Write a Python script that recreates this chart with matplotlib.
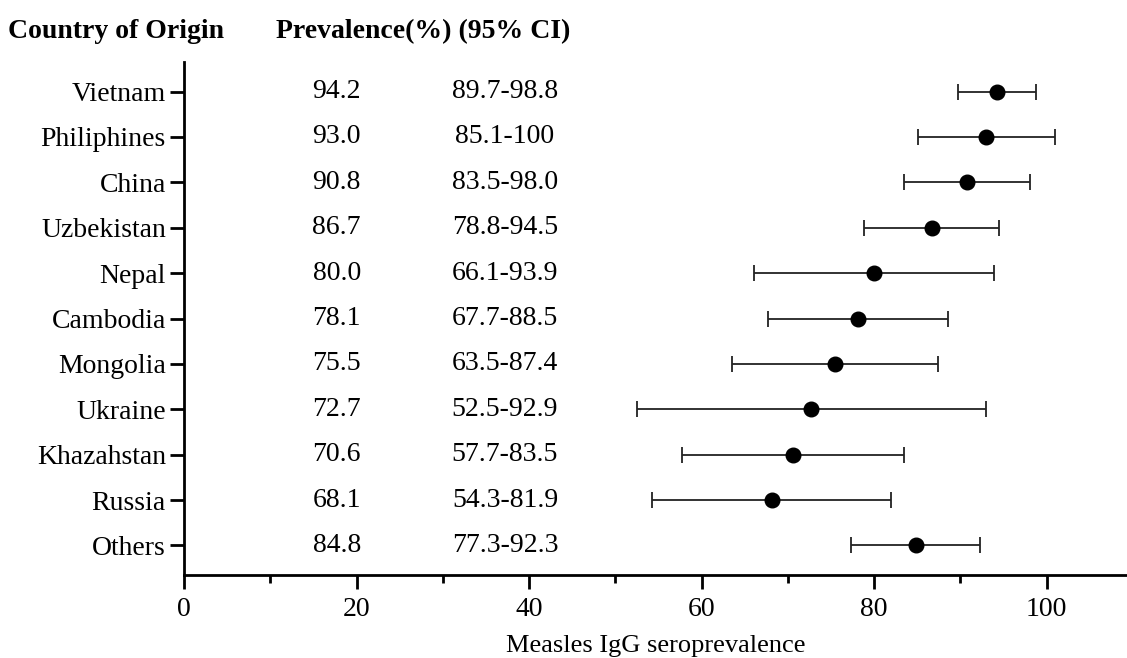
import numpy as np
import matplotlib
matplotlib.use("Agg")
from matplotlib import pyplot as plt

countries = ["Vietnam", "Philiphines", "China", "Uzbekistan", "Nepal", "Cambodia",
             "Mongolia", "Ukraine", "Khazahstan", "Russia", "Others"]
prev = [94.2, 93.0, 90.8, 86.7, 80.0, 78.1, 75.5, 72.7, 70.6, 68.1, 84.8]
ci_low = [89.7, 85.1, 83.5, 78.8, 66.1, 67.7, 63.5, 52.5, 57.7, 54.3, 77.3]
ci_high = [98.8, 100.9, 98.0, 94.5, 93.9, 88.5, 87.4, 92.9, 83.5, 81.9, 92.3]
prev_txt = ["94.2", "93.0", "90.8", "86.7", "80.0", "78.1", "75.5", "72.7", "70.6", "68.1", "84.8"]
ci_txt = ["89.7-98.8", "85.1-100", "83.5-98.0", "78.8-94.5", "66.1-93.9", "67.7-88.5",
          "63.5-87.4", "52.5-92.9", "57.7-83.5", "54.3-81.9", "77.3-92.3"]

plt.rcParams['font.family'] = ['Liberation Serif', 'DejaVu Serif']

fig = plt.figure(figsize=(11.27, 6.58), dpi=100)
ax = fig.add_axes([184 / 1127, 1 - 575 / 658, (1127 - 184) / 1127, (575 - 62) / 658])

y = np.arange(len(countries))
prev = np.array(prev)
xerr = [prev - np.array(ci_low), np.array(ci_high) - prev]
ax.errorbar(prev, y, xerr=xerr, fmt='o', color='black', ecolor='#222222',
            markersize=10.5, elinewidth=1.3, capsize=5.5, capthick=1.3)

for i in range(len(countries)):
    ax.text(17.7, y[i], prev_txt[i], ha='center', va='center', fontsize=20)
    ax.text(37.2, y[i], ci_txt[i], ha='center', va='center', fontsize=20)

ax.set_ylim(10.65, -0.65)
ax.set_xlim(0, 109.3)
ax.set_yticks(y)
ax.set_yticklabels(countries, fontsize=20)
ax.set_xticks([0, 20, 40, 60, 80, 100])
ax.set_xticklabels(["0", "20", "40", "60", "80", "100"], fontsize=20)
ax.set_xticks([10, 30, 50, 70, 90], minor=True)
ax.tick_params(axis='both', which='major', length=10, width=2, pad=3)
ax.tick_params(axis='x', which='minor', length=6, width=2)
ax.tick_params(axis='x', pad=6)
for s in ['top', 'right']:
    ax.spines[s].set_visible(False)
for s in ['left', 'bottom']:
    ax.spines[s].set_linewidth(2)

ax.set_xlabel("Measles IgG seroprevalence", fontsize=19, labelpad=9)

fig.text(8 / 1127, 1 - 32 / 658, "Country of Origin", fontsize=20, fontweight='bold',
         ha='left', va='center')
fig.text(276 / 1127, 1 - 32 / 658, "Prevalence(%) (95% CI)", fontsize=20, fontweight='bold',
         ha='left', va='center')

fig.savefig("out.png", dpi=100)
